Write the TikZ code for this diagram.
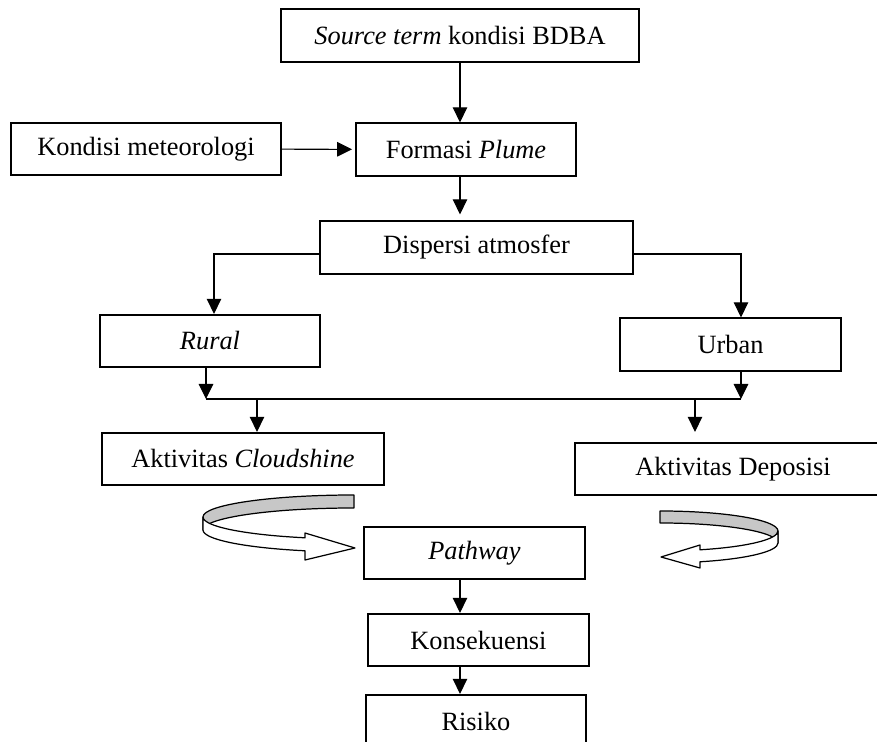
\documentclass[tikz,border=0pt]{standalone}
\usepackage{fontspec}
\setmainfont{Liberation Serif}
\usetikzlibrary{arrows.meta}

\tikzset{
  box/.style={draw,line width=1pt,inner sep=0pt,minimum height=1.05cm,
    font=\fontsize{15}{18}\selectfont},
  ribbon/.style={draw,line width=0.7pt,line join=round},
}

\begin{document}
\begin{tikzpicture}[x=0.02cm,y=-0.02cm,->,>={Triangle[length=3mm,width=2.9mm]},line width=0.6pt]

\useasboundingbox (0,0) rectangle (877,742);

\node [box,minimum width=7.16cm] (src)   at (460,35.5)  {\textit{Source term} kondisi BDBA};
\node [box,minimum width=5.40cm] (met)   at (146,149)   {Kondisi meteorologi};
\node [box,minimum width=4.40cm] (form)  at (466,149.5) {Formasi \textit{Plume}};
\node [box,minimum width=6.26cm] (disp)  at (476.5,247.5) {Dispersi atmosfer};
\node [box,minimum width=4.40cm] (rural) at (210,341)   {\textit{Rural}};
\node [box,minimum width=4.42cm] (urban) at (730.5,344.5) {Urban};
\node [box,minimum width=5.64cm] (cloud) at (243,459)   {Aktivitas \textit{Cloudshine}};
\node [box,minimum width=6.32cm] (depo)  at (733,469)   {Aktivitas Deposisi};
\node [box,minimum width=4.42cm] (path)  at (474.5,553) {\textit{Pathway}};
\node [box,minimum width=4.42cm] (kons)  at (478.5,640) {Konsekuensi};
\node [box,minimum width=4.40cm] (risk)  at (476,721)   {Risiko};

\coordinate (dl) at (214,254);
\coordinate (dr) at (741,254);
\coordinate (jl) at (206,399);
\coordinate (jr) at (741,399);
\coordinate (bc) at (257,399);
\coordinate (bd) at (695,399);

\draw (src.south) -- (src.south |- form.north);
\draw [shorten >=0.06cm] (met) -- (form);
\draw [shorten >=0.12cm] (src.south |- form.south) -- (src.south |- disp.north);
\draw (disp.west |- dl) -| (dl |- rural.north);
\draw (disp.east |- dr) -| (dr |- urban.north);
\draw (rural.south -| jl) -- (jl);
\draw (urban.south -| jr) -- (jr);
\draw [-] (jl) -- (jr);
\draw (bc) -- (bc |- cloud.north);
\draw [shorten >=0.2cm] (bd) -- (bd |- depo.north);
\draw (src.south |- path.south) -- (src.south |- kons.north);
\draw (src.south |- kons.south) -- (src.south |- risk.north);

% ribbon arrows
\path [ribbon,-,fill=black!22]
    (354,495) arc[start angle=270,end angle=180,x radius=151,y radius=22]
    -- ++(0,13) arc[start angle=180,end angle=270,x radius=151,y radius=22] -- cycle;
\path [ribbon,-,fill=white]
    (203,517) arc[start angle=180,end angle=108.93,x radius=151,y radius=22]
    -- (305,533) -- (355,548) -- (305,560) -- (305,550.8)
    arc[start angle=108.93,end angle=180,x radius=151,y radius=22] -- cycle;

\path [ribbon,-,fill=black!22]
    (660,511) arc[start angle=-90,end angle=0,x radius=118,y radius=20]
    -- ++(0,12) arc[start angle=0,end angle=-90,x radius=118,y radius=20] -- cycle;
\path [ribbon,-,fill=white]
    (778,531) arc[start angle=0,end angle=70.2,x radius=118,y radius=20]
    -- (700,545) -- (661,557) -- (700,568) -- (700,561.8)
    arc[start angle=70.2,end angle=0,x radius=118,y radius=20] -- cycle;

\end{tikzpicture}
\end{document}
